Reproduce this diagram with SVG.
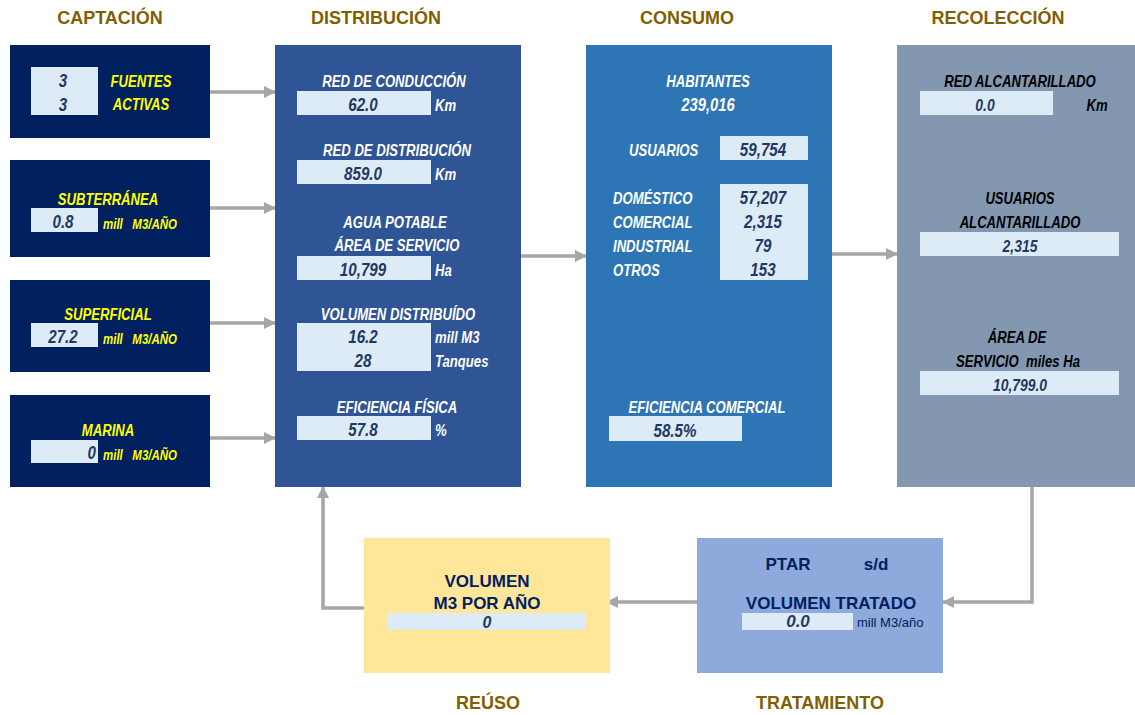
<svg xmlns="http://www.w3.org/2000/svg" width="1135" height="715" viewBox="0 0 1135 715">
<defs>
<style>
.hd{font-family:"Liberation Sans",Arial,sans-serif;font-weight:bold;font-size:18px;fill:#7F6000;text-anchor:middle}
.n{font-family:"Liberation Sans Narrow","Liberation Sans",Arial,sans-serif;font-weight:bold;font-style:italic;font-size:16px}
.v{font-family:"Liberation Sans Narrow","Liberation Sans",Arial,sans-serif;font-weight:bold;font-style:italic;font-size:18.5px;fill:#1F3864;text-anchor:middle}
.y{fill:#FFFF00}
.w{fill:#FFFFFF}
.k{fill:#000000}
.c{text-anchor:middle}
.e{text-anchor:end}
.sm{font-size:14px}
.lb{fill:#DDEBF7}
.b{font-family:"Liberation Sans",Arial,sans-serif;font-weight:bold;font-size:17px;fill:#002060;text-anchor:middle}
.r{font-family:"Liberation Sans",Arial,sans-serif;font-size:13px;fill:#002060}
.ln{fill:none;stroke:#A6A6A6;stroke-width:3.5}
</style>
<marker id="ah" markerUnits="userSpaceOnUse" markerWidth="12" markerHeight="12" viewBox="0 0 12 12" refX="11" refY="6" orient="auto">
<path d="M0,0 L12,6 L0,12 Z" fill="#A6A6A6"/>
</marker>
</defs>

<text class="hd" x="110" y="24">CAPTACIÓN</text>
<text class="hd" x="376" y="24">DISTRIBUCIÓN</text>
<text class="hd" x="687" y="24">CONSUMO</text>
<text class="hd" x="998" y="24">RECOLECCIÓN</text>
<text class="hd" x="488" y="709">REÚSO</text>
<text class="hd" x="820" y="709">TRATAMIENTO</text>

<g id="connectors">
<path class="ln" d="M210,92 H275" marker-end="url(#ah)"/>
<path class="ln" d="M210,208 H275" marker-end="url(#ah)"/>
<path class="ln" d="M210,323 H275" marker-end="url(#ah)"/>
<path class="ln" d="M210,438 H275" marker-end="url(#ah)"/>
<path class="ln" d="M521,256 H586" marker-end="url(#ah)"/>
<path class="ln" d="M832,254 H897" marker-end="url(#ah)"/>
<path class="ln" d="M1032,487 V602 H943" marker-end="url(#ah)"/>
<path class="ln" d="M697,602 H607" marker-end="url(#ah)"/>
<path class="ln" d="M364,608 H323 V487" marker-end="url(#ah)"/>
</g>

<g id="fuentes">
<rect x="10" y="45" width="200" height="93" fill="#002060"/>
<rect class="lb" x="31" y="67" width="67" height="48"/>
<text class="v" transform="translate(63,87) scale(.82,1)">3</text>
<text class="v" transform="translate(63,111) scale(.82,1)">3</text>
<text class="n y c" transform="translate(141,87) scale(.82,1)">FUENTES</text>
<text class="n y c" transform="translate(141,110) scale(.82,1)">ACTIVAS</text>
</g>

<g id="subterranea">
<rect x="10" y="160" width="200" height="97" fill="#002060"/>
<text class="n y c" transform="translate(108,205) scale(.82,1)">SUBTERRÁNEA</text>
<rect class="lb" x="31" y="208" width="67" height="24"/>
<text class="v" transform="translate(63,228) scale(.82,1)">0.8</text>
<text class="n y sm" xml:space="preserve" transform="translate(103,229) scale(.82,1)">mill   M3/AÑO</text>
</g>

<g id="superficial">
<rect x="10" y="280" width="200" height="92" fill="#002060"/>
<text class="n y c" transform="translate(108,320) scale(.82,1)">SUPERFICIAL</text>
<rect class="lb" x="31" y="323" width="67" height="24"/>
<text class="v" transform="translate(63,343) scale(.82,1)">27.2</text>
<text class="n y sm" xml:space="preserve" transform="translate(103,344) scale(.82,1)">mill   M3/AÑO</text>
</g>

<g id="marina">
<rect x="10" y="395" width="200" height="92" fill="#002060"/>
<text class="n y c" transform="translate(108,436) scale(.82,1)">MARINA</text>
<rect class="lb" x="31" y="440" width="67" height="23"/>
<text class="v e" transform="translate(96,459) scale(.82,1)">0</text>
<text class="n y sm" xml:space="preserve" transform="translate(103,460) scale(.82,1)">mill   M3/AÑO</text>
</g>

<g id="distribucion">
<rect x="275" y="45" width="246" height="442" fill="#2F5597"/>
<text class="n w c" transform="translate(394,87) scale(.82,1)">RED DE CONDUCCIÓN</text>
<rect class="lb" x="297" y="91" width="134" height="24"/>
<text class="v" transform="translate(363,111) scale(.82,1)">62.0</text>
<text class="n w" transform="translate(435,111) scale(.82,1)">Km</text>
<text class="n w c" transform="translate(397,156) scale(.82,1)">RED DE DISTRIBUCIÓN</text>
<rect class="lb" x="297" y="160" width="134" height="24"/>
<text class="v" transform="translate(363,180) scale(.82,1)">859.0</text>
<text class="n w" transform="translate(435,180) scale(.82,1)">Km</text>
<text class="n w c" transform="translate(395,228) scale(.82,1)">AGUA POTABLE</text>
<text class="n w c" transform="translate(397,251) scale(.82,1)">ÁREA DE SERVICIO</text>
<rect class="lb" x="297" y="256" width="134" height="24"/>
<text class="v" transform="translate(363,276) scale(.82,1)">10,799</text>
<text class="n w" transform="translate(435,276) scale(.82,1)">Ha</text>
<text class="n w c" transform="translate(398,320) scale(.82,1)">VOLUMEN DISTRIBUÍDO</text>
<rect class="lb" x="297" y="323" width="134" height="48"/>
<text class="v" transform="translate(363,343) scale(.82,1)">16.2</text>
<text class="v" transform="translate(363,367) scale(.82,1)">28</text>
<text class="n w" transform="translate(435,343) scale(.82,1)">mill M3</text>
<text class="n w" transform="translate(435,367) scale(.82,1)">Tanques</text>
<text class="n w c" transform="translate(397,413) scale(.82,1)">EFICIENCIA FÍSICA</text>
<rect class="lb" x="297" y="416" width="134" height="24"/>
<text class="v" transform="translate(363,436) scale(.82,1)">57.8</text>
<text class="n w" transform="translate(435,436) scale(.82,1)">%</text>
</g>

<g id="consumo">
<rect x="586" y="45" width="246" height="442" fill="#2E75B6"/>
<text class="n w c" transform="translate(708,87) scale(.82,1)">HABITANTES</text>
<text class="n w c" style="font-size:18px" transform="translate(708,111) scale(.82,1)">239,016</text>
<text class="n w" transform="translate(629,156) scale(.82,1)">USUARIOS</text>
<rect class="lb" x="720" y="136" width="88" height="24"/>
<text class="v" transform="translate(763,156) scale(.82,1)">59,754</text>
<rect class="lb" x="720" y="184" width="88" height="96"/>
<text class="n w" transform="translate(613,204) scale(.82,1)">DOMÉSTICO</text>
<text class="n w" transform="translate(613,228) scale(.82,1)">COMERCIAL</text>
<text class="n w" transform="translate(613,252) scale(.82,1)">INDUSTRIAL</text>
<text class="n w" transform="translate(613,276) scale(.82,1)">OTROS</text>
<text class="v" transform="translate(763,204) scale(.82,1)">57,207</text>
<text class="v" transform="translate(763,228) scale(.82,1)">2,315</text>
<text class="v" transform="translate(763,252) scale(.82,1)">79</text>
<text class="v" transform="translate(763,276) scale(.82,1)">153</text>
<text class="n w c" transform="translate(707,413) scale(.82,1)">EFICIENCIA COMERCIAL</text>
<rect class="lb" x="609" y="416" width="133" height="25"/>
<text class="v" transform="translate(675,437) scale(.82,1)">58.5%</text>
</g>

<g id="recoleccion">
<rect x="897" y="45" width="238" height="442" fill="#8497B0"/>
<text class="n k c" transform="translate(1020,87) scale(.82,1)">RED ALCANTARILLADO</text>
<rect class="lb" x="920" y="91" width="133" height="24"/>
<text class="v" style="font-size:17px" transform="translate(985,111) scale(.82,1)">0.0</text>
<text class="n k c" transform="translate(1097,111) scale(.82,1)">Km</text>
<text class="n k c" transform="translate(1020,204) scale(.82,1)">USUARIOS</text>
<text class="n k c" transform="translate(1020,228) scale(.82,1)">ALCANTARILLADO</text>
<rect class="lb" x="920" y="232" width="199" height="24"/>
<text class="v" style="font-size:17px" transform="translate(1020,252) scale(.82,1)">2,315</text>
<text class="n k c" transform="translate(1017,343) scale(.82,1)">ÁREA DE</text>
<text class="n k c" xml:space="preserve" transform="translate(1018,367) scale(.82,1)">SERVICIO  miles Ha</text>
<rect class="lb" x="920" y="371" width="199" height="24"/>
<text class="v" style="font-size:17px" transform="translate(1020,391) scale(.82,1)">10,799.0</text>
</g>

<g id="tratamiento">
<rect x="697" y="538" width="246" height="135" fill="#8EA9DB"/>
<text class="b" x="788" y="570">PTAR</text>
<text class="b" x="876" y="570">s/d</text>
<text class="b" x="831" y="609">VOLUMEN TRATADO</text>
<rect class="lb" x="742" y="613" width="111" height="17"/>
<text class="v" x="798" y="627" style="font-size:17px">0.0</text>
<text class="r" x="857" y="627">mill M3/año</text>
</g>

<g id="reuso">
<rect x="364" y="538" width="246" height="135" fill="#FFE699"/>
<text class="b" x="487" y="587">VOLUMEN</text>
<text class="b" x="487" y="609">M3 POR AÑO</text>
<rect class="lb" x="387" y="613" width="199" height="17"/>
<text class="v" x="487" y="628" style="font-size:16px">0</text>
</g>
</svg>
